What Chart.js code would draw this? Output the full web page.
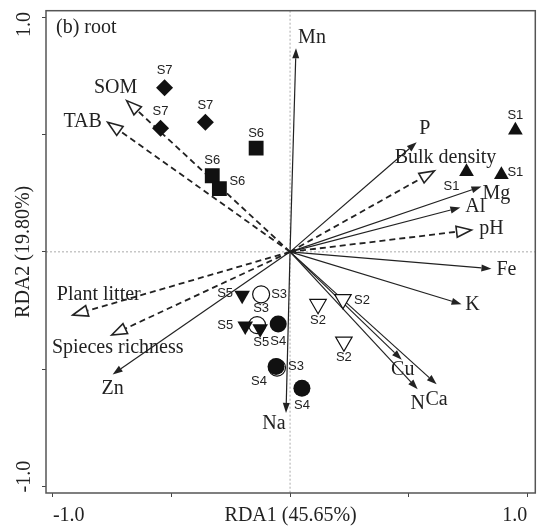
<!DOCTYPE html>
<html lang="en">
<head>
<meta charset="UTF-8">
<title>RDA biplot (b) root</title>
<script src="https://cdn.jsdelivr.net/npm/chart.js"></script>
<style>
  body { margin: 0; background: #fff; }
  .chart-box { width: 546px; height: 532px; }
</style>
</head>
<body>
<div class="chart-box"><canvas id="rdaChart"></canvas></div>
<script>
// environmental variables drawn with solid arrows
const solidVars = ['Mn', 'P', 'Mg', 'Al', 'Fe', 'K', 'Cu', 'N', 'Ca', 'Na', 'Zn'];
const solidX = [0.025, 0.534, 0.807, 0.718, 0.849, 0.723, 0.471, 0.538, 0.618, -0.017, -0.748];
const solidY = [0.867, 0.467, 0.278, 0.189, -0.072, -0.223, -0.459, -0.585, -0.564, -0.686, -0.522];

// variables drawn with dashed arrows
const dashedVars = ['SOM', 'TAB', 'Bulk density', 'pH', 'Plant litter', 'Spieces richness'];
const dashedX = [-0.689, -0.769, 0.609, 0.765, -0.916, -0.752];
const dashedY = [0.644, 0.552, 0.345, 0.093, -0.269, -0.354];

// site scores
const s1X = [0.950, 0.744, 0.891];
const s1Y = [0.518, 0.341, 0.328];
const s2X = [0.118, 0.223, 0.227];
const s2Y = [-0.223, -0.202, -0.383];
const s3X = [-0.122, -0.139, -0.055];
const s3Y = [-0.181, -0.312, -0.493];
const s4X = [-0.050, -0.059, 0.050];
const s4Y = [-0.307, -0.488, -0.581];
const s5X = [-0.202, -0.189, -0.126];
const s5Y = [-0.185, -0.316, -0.328];
const s6X = [-0.143, -0.328, -0.298];
const s6Y = [0.442, 0.324, 0.269];
const s7X = [-0.529, -0.546, -0.357];
const s7Y = [0.699, 0.526, 0.552];

const tickValues = [-1, -0.5, 0, 0.5, 1];

// label placement (pixels from the arrow tip / marker)
const solidLabelOffsets = [[16, -11], [8, -13], [15, 7], [15, -1], [15, 1], [11, 1], [1, 10], [0, 15], [0, 15], [-12, 11], [0, 14]];
const dashedLabelOffsets = [[-11, -13], [-25, 0], [11, -13], [20, -1], [26, -20], [6, 13]];
const siteLabelOffsets = {
    S1: [[0, -15], [-15, 15], [14, -2]],
    S2: [[0, 16], [19, 1], [0, 16]],
    S3: [[18, 0], [4, -17], [19, -1]],
    S4: [[0, 17], [-17, 15], [0, 17]],
    S5: [[-17, -2], [-20, -1], [1, 14]],
    S6: [[0, -15], [0, -15], [18, -7]],
    S7: [[0, -17], [0, -17], [0, -17]]
};

const INK = '#222';

function pts(xs, ys) {
    return xs.map((v, i) => ({ x: v, y: ys[i] }));
}

function siteSet(label, xs, ys, style, radius, filled, rotation) {
    return {
        label: label,
        data: pts(xs, ys),
        pointStyle: style,
        pointRadius: radius,
        pointHoverRadius: radius,
        rotation: rotation || 0,
        backgroundColor: filled ? '#111' : '#fff',
        borderColor: '#111',
        borderWidth: filled ? 0 : 1.2
    };
}

// dataset 0 is painted last (on top)
const datasets = [
    siteSet('S1', s1X, s1Y, 'triangle', 8.5, true),
    siteSet('S2', s2X, s2Y, 'triangle', 9.5, false, 180),
    siteSet('S4', s4X, s4Y, 'circle', 8.5, true),
    siteSet('S5', s5X, s5Y, 'triangle', 9, true, 180),
    siteSet('S3', s3X, s3Y, 'circle', 8.5, false),
    siteSet('S6', s6X, s6Y, 'rect', 10.5, true),
    siteSet('S7', s7X, s7Y, 'rectRot', 8.5, true)
];

function drawArrow(ctx, x0, y0, x1, y1, dashed) {
    const a = Math.atan2(y1 - y0, x1 - x0);
    const len = dashed ? 15 : 10;
    const half = dashed ? 5.5 : 3.5;
    const bx = x1 - Math.cos(a) * len;
    const by = y1 - Math.sin(a) * len;
    const px = -Math.sin(a) * half;
    const py = Math.cos(a) * half;

    ctx.beginPath();
    ctx.setLineDash(dashed ? [6, 4] : []);
    ctx.lineWidth = dashed ? 1.8 : 1.2;
    ctx.strokeStyle = INK;
    ctx.moveTo(x0, y0);
    ctx.lineTo(bx, by);
    ctx.stroke();

    ctx.setLineDash([]);
    ctx.beginPath();
    ctx.moveTo(x1, y1);
    ctx.lineTo(bx + px, by + py);
    ctx.lineTo(bx - px, by - py);
    ctx.closePath();
    if (dashed) {
        ctx.fillStyle = '#fff';
        ctx.fill();
        ctx.lineWidth = 1.6;
        ctx.stroke();
    } else {
        ctx.fillStyle = INK;
        ctx.fill();
    }
}

const rdaPlugin = {
    id: 'rdaBiplot',
    beforeDatasetsDraw(chart) {
        const { ctx, chartArea: ca, scales: { x, y } } = chart;
        const ox = x.getPixelForValue(0);
        const oy = y.getPixelForValue(0);
        ctx.save();

        // zero lines
        ctx.strokeStyle = '#aaa';
        ctx.lineWidth = 1;
        ctx.setLineDash([2, 2]);
        ctx.beginPath();
        ctx.moveTo(ox, ca.top);
        ctx.lineTo(ox, ca.bottom);
        ctx.moveTo(ca.left, oy);
        ctx.lineTo(ca.right, oy);
        ctx.stroke();

        // frame
        ctx.setLineDash([]);
        ctx.strokeStyle = '#555';
        ctx.lineWidth = 1.5;
        ctx.strokeRect(ca.left, ca.top, ca.right - ca.left, ca.bottom - ca.top);

        dashedVars.forEach((n, i) => {
            drawArrow(ctx, ox, oy, x.getPixelForValue(dashedX[i]), y.getPixelForValue(dashedY[i]), true);
        });
        solidVars.forEach((n, i) => {
            drawArrow(ctx, ox, oy, x.getPixelForValue(solidX[i]), y.getPixelForValue(solidY[i]), false);
        });
        ctx.restore();
    },
    afterDatasetsDraw(chart) {
        const { ctx, chartArea: ca, scales: { x, y } } = chart;
        ctx.save();
        ctx.fillStyle = INK;
        ctx.textAlign = 'center';
        ctx.textBaseline = 'middle';

        ctx.font = "20px 'Liberation Serif', serif";
        solidVars.forEach((n, i) => {
            const o = solidLabelOffsets[i];
            ctx.fillText(n, x.getPixelForValue(solidX[i]) + o[0], y.getPixelForValue(solidY[i]) + o[1]);
        });
        dashedVars.forEach((n, i) => {
            const o = dashedLabelOffsets[i];
            ctx.fillText(n, x.getPixelForValue(dashedX[i]) + o[0], y.getPixelForValue(dashedY[i]) + o[1]);
        });

        // panel tag
        ctx.textAlign = 'left';
        ctx.fillText('(b) root', ca.left + 10, ca.top + 17);

        // site names
        ctx.textAlign = 'center';
        ctx.font = "13px 'Liberation Sans', Arial, sans-serif";
        chart.data.datasets.forEach(ds => {
            const offs = siteLabelOffsets[ds.label];
            ds.data.forEach((p, i) => {
                ctx.fillText(ds.label, x.getPixelForValue(p.x) + offs[i][0], y.getPixelForValue(p.y) + offs[i][1]);
            });
        });
        ctx.restore();
    }
};

Chart.defaults.font.family = "'Liberation Serif', 'Times New Roman', serif";
Chart.defaults.font.size = 20;
Chart.defaults.color = INK;

const ctx = document.getElementById('rdaChart').getContext('2d');
new Chart(ctx, {
    type: 'scatter',
    data: { datasets: datasets },
    plugins: [rdaPlugin],
    options: {
        responsive: true,
        maintainAspectRatio: false,
        animation: false,
        layout: { padding: { top: 5, right: 9, left: 0, bottom: 0 } },
        plugins: {
            legend: { display: false },
            tooltip: { enabled: false }
        },
        scales: {
            x: {
                type: 'linear',
                min: -1.029,
                max: 1.034,
                afterBuildTicks: s => { s.ticks = tickValues.map(v => ({ value: v })); },
                afterFit: s => { s.height = 39; s.paddingLeft = 0; s.paddingRight = 0; },
                grid: { drawOnChartArea: false, tickLength: 4, tickColor: '#444' },
                border: { display: false },
                ticks: {
                    align: 'inner',
                    padding: 7,
                    maxRotation: 0,
                    autoSkip: false,
                    callback: v => v === -1 ? '-1.0' : (v === 1 ? '1.0' : '')
                },
                title: { display: true, text: 'RDA1 (45.65%)', padding: { top: 0, bottom: 4 } }
            },
            y: {
                type: 'linear',
                min: -1.027,
                max: 1.027,
                afterBuildTicks: s => { s.ticks = tickValues.map(v => ({ value: v })); },
                afterFit: s => { s.width = 46; s.paddingTop = 0; s.paddingBottom = 0; },
                grid: { drawOnChartArea: false, tickLength: 4, tickColor: '#444' },
                border: { display: false },
                ticks: {
                    minRotation: 90,
                    maxRotation: 90,
                    crossAlign: 'center',
                    padding: -9,
                    autoSkip: false,
                    callback: v => v === 1 ? '1.0   ' : (v === -1 ? '    -1.0' : '')
                },
                title: { display: true, text: 'RDA2 (19.80%)', padding: { top: 12, bottom: 0 } }
            }
        }
    }
});
</script>
</body>
</html>
